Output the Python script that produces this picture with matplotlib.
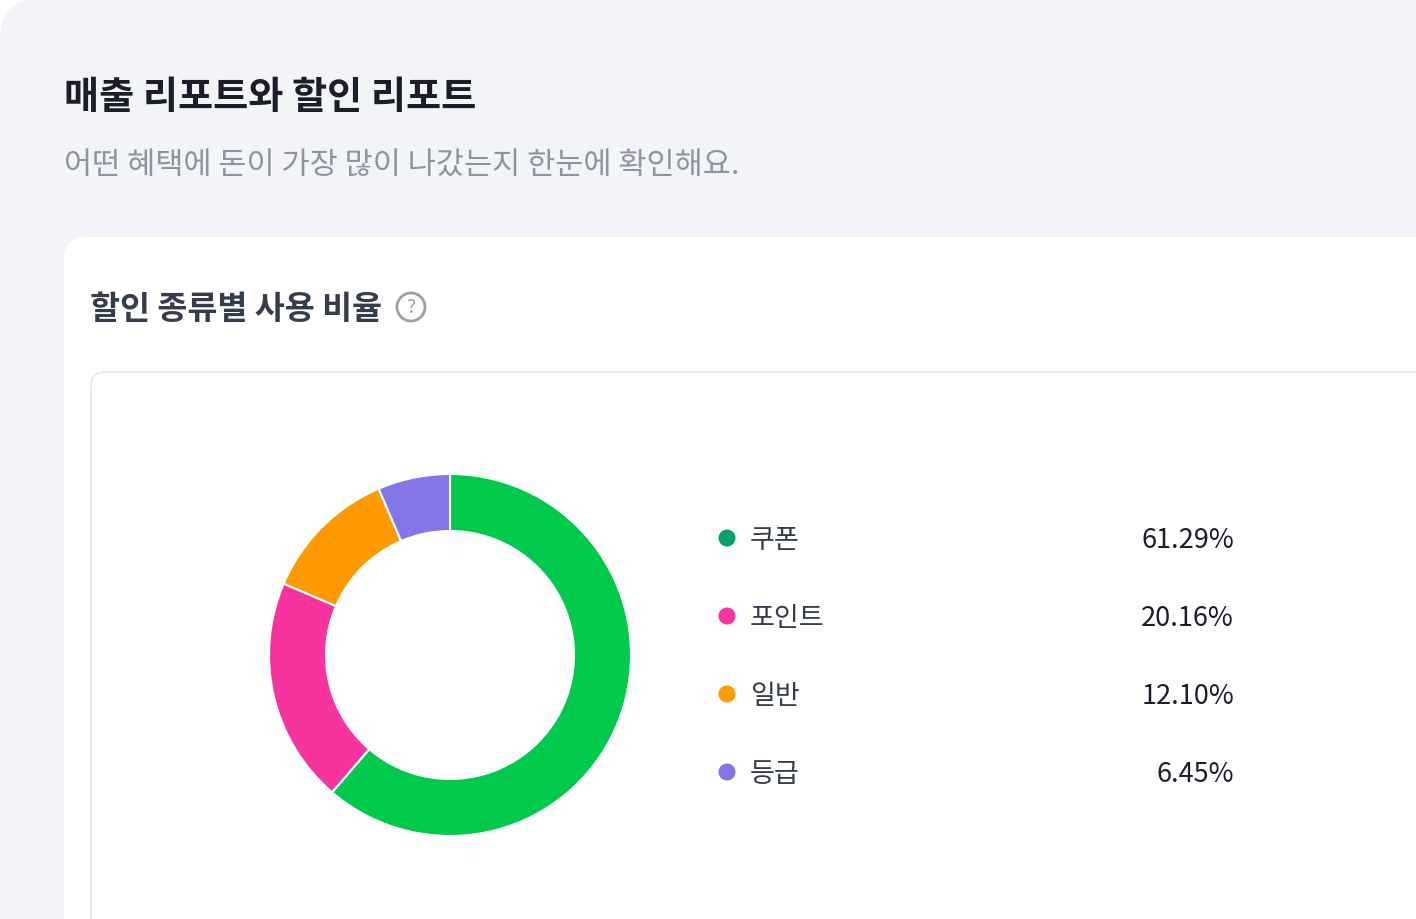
import matplotlib
matplotlib.use("Agg")
import matplotlib.pyplot as plt
from matplotlib.patches import FancyBboxPatch, Circle

plt.rcParams['font.family'] = ['Noto Sans CJK KR', 'DejaVu Sans']

categories = ['쿠폰', '포인트', '일반', '등급']
values = [61.29, 20.16, 12.10, 6.45]
labels = ['61.29%', '20.16%', '12.10%', '6.45%']
colors = ['#00c94b', '#f7339d', '#ff9b00', '#8376e8']
dot_colors = ['#06a06c', '#f7339d', '#ff9b00', '#8376e8']

W, H = 1416, 920
fig = plt.figure(figsize=(W/100, H/100), dpi=100)
bg = fig.add_axes([0, 0, 1, 1])
bg.set_xlim(0, W); bg.set_ylim(H, 0); bg.axis('off')

bg.add_patch(FancyBboxPatch((0, 0), W + 100, H + 100, boxstyle="round,pad=0,rounding_size=40",
                            fc='#f2f4f8', ec='none'))
bg.add_patch(FancyBboxPatch((64, 238), W, H, boxstyle="round,pad=0,rounding_size=22",
                            fc='white', ec='none'))
bg.add_patch(FancyBboxPatch((91, 373), W, H, boxstyle="round,pad=0,rounding_size=14",
                            fc='white', ec='#e3e6ea', lw=1.2))

bg.text(64, 98, '매출 리포트와 할인 리포트', fontsize=27.5, fontweight='bold', color='#191f28', va='center')
bg.text(64, 165, '어떤 혜택에 돈이 가장 많이 나갔는지 한눈에 확인해요.', fontsize=22, color='#8b95a1', va='center')
bg.text(90, 310, '할인 종류별 사용 비율', fontsize=23.5, fontweight='bold', color='#333d4b', va='center')
bg.add_patch(Circle((411, 308), 14, fc='none', ec='#9aa0a8', lw=2))
bg.text(411, 308, '?', fontsize=14, color='#9aa0a8', ha='center', va='center')

ys = [539, 617, 695, 773]
for c, lab, pct, y in zip(dot_colors, categories, labels, ys):
    bg.add_patch(Circle((727, y), 8.5, fc=c, ec='none'))
    bg.text(750, y + 2, lab, fontsize=19.5, fontweight='medium', color='#333d4b', va='center')
    bg.text(1234, y + 2, pct, fontsize=19.5, fontweight='medium', color='#191f28', ha='right', va='center')

R = 181
ax = fig.add_axes([(450 - R)/W, 1 - (656 + R)/H, 2*R/W, 2*R/H])
ax.pie(values, colors=colors, startangle=90, counterclock=False,
       wedgeprops=dict(width=57/R, edgecolor='white', linewidth=1.5), radius=1)
ax.set_aspect('equal'); ax.axis('off')
ax.set_xlim(-1, 1); ax.set_ylim(-1, 1)

fig.savefig('out.png', dpi=100)
